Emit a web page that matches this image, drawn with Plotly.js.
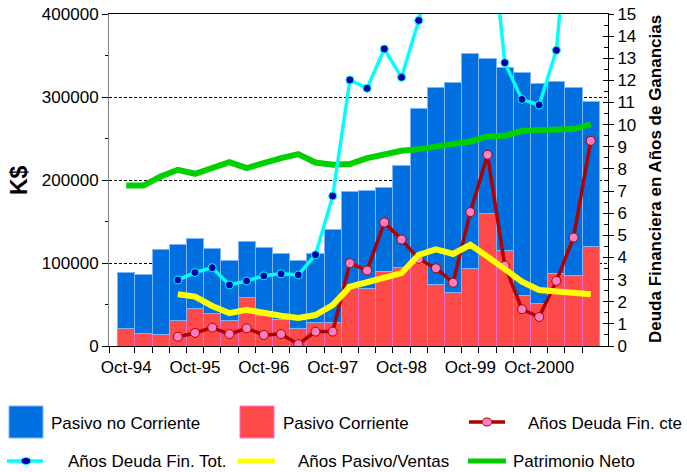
<!DOCTYPE html>
<html>
<head>
<meta charset="utf-8">
<script src="https://cdn.plot.ly/plotly-3.0.1.min.js"></script>
<style>
html,body{margin:0;padding:0;background:#fff;}
#chart{width:687px;height:472px;}
</style>
</head>
<body>
<div id="chart"></div>
<script>
// ---- data ----
const categories = ["Oct-94","Jan-95","Apr-95","Jul-95","Oct-95","Jan-96","Apr-96","Jul-96",
  "Oct-96","Jan-97","Apr-97","Jul-97","Oct-97","Jan-98","Apr-98","Jul-98",
  "Oct-98","Jan-99","Apr-99","Jul-99","Oct-99","Jan-00","Apr-00","Jul-00",
  "Oct-2000","Jan-01","Apr-01","Jul-01"];

const pasivoCorriente = [21300,15300,13300,30200,45500,39000,30200,58700,
  36600,32200,21300,28600,28600,74400,68800,89300,
  94900,98900,73600,64800,92900,159200,115400,61100,
  51500,87700,84400,119800];

const pasivoNoCorriente = [67600,70300,102500,92500,84400,78800,73200,67100,
  82400,79600,82100,82400,111400,111700,119000,101700,
  122200,187800,238400,252800,259300,186600,219600,268600,
  264200,230400,227600,174500];

const anosDeudaFinCte = [null,null,null,0.42,0.59,0.83,0.54,0.80,
  0.50,0.54,0.08,0.65,0.65,3.74,3.41,5.58,
  4.81,3.93,3.51,2.86,6.05,8.64,3.63,1.66,
  1.31,2.94,4.90,9.27];

const anosDeudaFinTot = [null,null,null,2.98,3.32,3.54,2.76,2.94,
  3.17,3.26,3.21,4.12,6.78,12.02,11.64,13.42,
  12.14,14.71,17.8,19.0,20.0,20.4,12.8,11.14,
  10.89,13.36,22.0,24.0];

const anosPasivoVentas = [null,null,null,2.34,2.23,1.81,1.48,1.63,
  1.48,1.37,1.27,1.40,1.85,2.68,2.88,3.09,
  3.29,4.12,4.37,4.16,4.57,4.04,3.44,2.91,
  2.53,2.46,2.38,2.34];

const patrimonioNeto = [193300,193300,204200,212300,207500,214300,221600,214300,
  221100,226400,231200,221100,218300,219200,226400,230400,
  235200,237200,240400,244500,246400,252500,253300,259300,
  260200,261400,261400,267000];

const leftTicks = [0,100000,200000,300000,400000];
const rightTicks = [0,1,2,3,4,5,6,7,8,9,10,11,12,13,14,15];

// ---- derived ----
const xs = categories.map((c,i)=>i+1);
const labelIdx = categories.map((c,i)=>i).filter(i=>categories[i].startsWith("Oct"));
const boundaries = [0].concat(categories.slice(1).map((c,i)=>i+1.5));
const xRange = [0, categories.length+1];

const FONT = "Liberation Sans, Arial, sans-serif";
const BLUE = "#0070E0", BLUE_EDGE = "#7FB4FF";
const RED = "#FF4A4A", RED_EDGE = "#FF70D0";
const DARKRED = "#B00000", PINK = "#FF80C0";
const CYAN = "#00FFFF", NAVY = "#0000A8";
const YELLOW = "#FFFF00", GREEN = "#00D000";

const traces = [
  {type:"bar", x:xs, y:pasivoCorriente, name:"Pasivo Corriente",
   marker:{color:RED, line:{color:RED_EDGE, width:1}}, showlegend:false, hoverinfo:"skip"},
  {type:"bar", x:xs, y:pasivoNoCorriente, name:"Pasivo no Corriente",
   marker:{color:BLUE, line:{color:BLUE_EDGE, width:1}}, showlegend:false, hoverinfo:"skip"},
  {type:"scatter", mode:"lines", x:xs, y:patrimonioNeto, name:"Patrimonio Neto",
   line:{color:GREEN, width:6}, showlegend:false},
  {type:"scatter", mode:"lines+markers", x:xs, y:anosDeudaFinCte, yaxis:"y2", name:"Años Deuda Fin. cte",
   line:{color:DARKRED, width:3.5}, marker:{symbol:"circle", size:9, color:PINK, line:{color:DARKRED, width:1}}, showlegend:false},
  {type:"scatter", mode:"lines+markers", x:xs, y:anosDeudaFinTot, yaxis:"y2", name:"Años Deuda Fin. Tot.",
   line:{color:CYAN, width:3.5}, marker:{symbol:"circle", size:8, color:NAVY, line:{color:CYAN, width:1}}, showlegend:false},
  {type:"scatter", mode:"lines", x:xs, y:anosPasivoVentas, yaxis:"y2", name:"Años Pasivo/Ventas",
   line:{color:YELLOW, width:6}, showlegend:false},
  // invisible helpers so the label axis and the inner-tick axis get drawn
  {type:"scatter", mode:"markers", x:xs, y:pasivoCorriente, xaxis:"x2", yaxis:"y",
   marker:{opacity:0}, hoverinfo:"skip", showlegend:false},
  {type:"scatter", mode:"markers", x:xs, y:anosPasivoVentas, xaxis:"x", yaxis:"y3",
   marker:{opacity:0}, hoverinfo:"skip", showlegend:false}
];

// pixel -> paper helpers (plot area 109..608 x, 14..346 y)
const L=109, R=79, T=14, B=126, W=687, H=472;
const pw = W-L-R, ph = H-T-B;
const px = v => (v-L)/pw;
const py = v => (H-B-v)/ph;

const shapes = [];
const annotations = [];
function rectItem(x0,x1,y0,y1,fill,edge){
  shapes.push({type:"rect", xref:"paper", yref:"paper", x0:px(x0), x1:px(x1), y0:py(y1), y1:py(y0),
    fillcolor:fill, line:{color:edge, width:1}});
}
function lineItem(x0,x1,y,color,w){
  shapes.push({type:"line", xref:"paper", yref:"paper", x0:px(x0), x1:px(x1), y0:py(y), y1:py(y),
    line:{color:color, width:w}});
}
function dotItem(cx,cy,rx,ry,fill,edge){
  shapes.push({type:"circle", xref:"paper", yref:"paper", x0:px(cx-rx), x1:px(cx+rx), y0:py(cy+ry), y1:py(cy-ry),
    fillcolor:fill, line:{color:edge, width:1}});
}
function textItem(x,y,t){
  annotations.push({xref:"paper", yref:"paper", x:px(x), y:py(y), xanchor:"left", yanchor:"middle",
    text:t, showarrow:false, font:{family:FONT, size:17, color:"#000"}, borderpad:0});
}
rectItem(9,43,406,438,BLUE,BLUE_EDGE);   textItem(50,423,"Pasivo no Corriente");
rectItem(240,274,406,438,RED,RED_EDGE);  textItem(282,423,"Pasivo Corriente");
lineItem(469,505,422,DARKRED,3.5); dotItem(487,422,5,4,PINK,DARKRED); textItem(527,423,"Años Deuda Fin. cte");
lineItem(7,43,461,CYAN,3.5); dotItem(26,461,5,3.5,NAVY,CYAN); textItem(67,462,"Años Deuda Fin. Tot.");
lineItem(238,275,461,YELLOW,5); textItem(297,462,"Años Pasivo/Ventas");
lineItem(468,506,461,GREEN,5); textItem(512,462,"Patrimonio Neto");

annotations.push({xref:"paper", yref:"paper", x:px(19), y:py(180), xanchor:"center", yanchor:"middle",
  text:"<b>K$</b>", textangle:-90, showarrow:false, font:{family:FONT, size:23, color:"#000"}});
annotations.push({xref:"paper", yref:"paper", x:px(655), y:py(179), xanchor:"center", yanchor:"middle",
  text:"<b>Deuda Financiera en Años de Ganancias</b>", textangle:-90, showarrow:false,
  font:{family:FONT, size:17, color:"#000"}});

const layout = {
  width:W, height:H,
  margin:{l:L, r:R, t:T, b:B, pad:0},
  paper_bgcolor:"#fff", plot_bgcolor:"#fff",
  barmode:"stack", bargap:0,
  showlegend:false,
  font:{family:FONT, size:17, color:"#000"},
  xaxis:{
    range:xRange, showgrid:false, zeroline:false,
    showline:true, linecolor:"#000", linewidth:1, mirror:true,
    tickmode:"array", tickvals:boundaries, showticklabels:false,
    ticks:"outside", ticklen:6, tickcolor:"#000", tickwidth:1
  },
  xaxis2:{
    overlaying:"x", anchor:"y", side:"bottom", range:xRange,
    showgrid:false, zeroline:false, showline:false,
    tickmode:"array", tickvals:labelIdx.map(i=>xs[i]), ticktext:labelIdx.map(i=>categories[i]),
    ticks:"outside", ticklen:6, tickcolor:"rgba(0,0,0,0)",
    tickfont:{family:FONT, size:17, color:"#000"}
  },
  yaxis:{
    range:[0,400000], tickmode:"array", tickvals:leftTicks, ticktext:leftTicks.map(v=>String(v)),
    showgrid:true, gridcolor:"#000", gridwidth:1, griddash:"3px,2px",
    zeroline:false, showline:true, linecolor:"#808080", linewidth:1,
    ticks:"outside", ticklen:6, tickcolor:"#000",
    minor:{dtick:50000, tick0:0, ticks:"outside", ticklen:3, tickcolor:"#000", showgrid:false},
    tickfont:{family:FONT, size:17, color:"#000"}
  },
  yaxis2:{
    overlaying:"y", side:"right", range:[0,15],
    tickmode:"array", tickvals:rightTicks, ticktext:rightTicks.map(v=>String(v)),
    showgrid:false, zeroline:false, showline:true, linecolor:"#000", linewidth:1,
    ticks:"outside", ticklen:5, tickcolor:"#000",
    tickfont:{family:FONT, size:17, color:"#000"}
  },
  yaxis3:{
    overlaying:"y", side:"right", anchor:"x", range:[0,15],
    tickmode:"array", tickvals:rightTicks, showticklabels:false,
    showgrid:false, zeroline:false, showline:false,
    ticks:"inside", ticklen:5, tickcolor:"#000",
    minor:{dtick:0.5, tick0:0, ticks:"inside", ticklen:4, tickcolor:"#000", showgrid:false}
  },
  shapes:shapes,
  annotations:annotations
};

Plotly.newPlot("chart", traces, layout, {displayModeBar:false, staticPlot:true});
</script>
</body>
</html>
